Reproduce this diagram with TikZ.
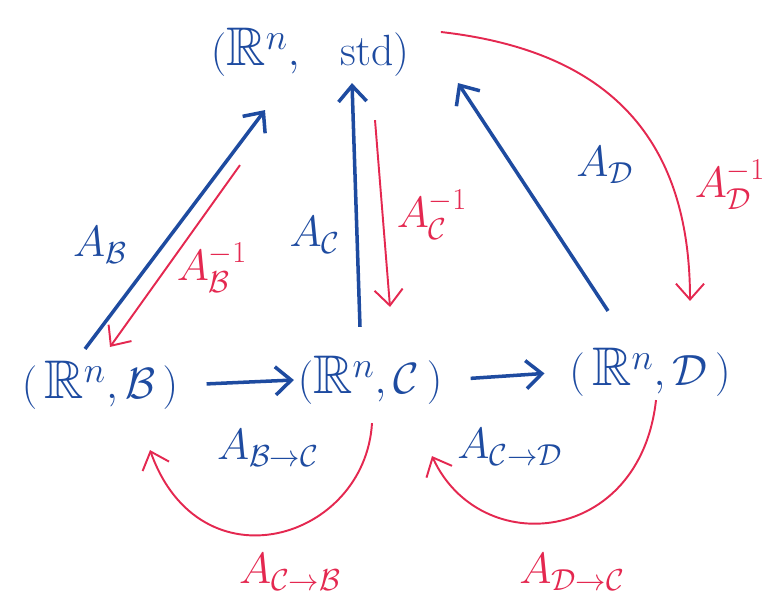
\documentclass[tikz,border=0pt]{standalone}
\usepackage{amssymb}
\usetikzlibrary{arrows.meta}
\definecolor{penblue}{RGB}{30,75,160}
\definecolor{penred}{RGB}{228,40,80}
\begin{document}
\begin{tikzpicture}[x=0.02cm, y=-0.02cm]
\tikzset{
  space/.style={text=penblue, font=\fontsize{31}{36}\selectfont, inner sep=2pt},
  fwdmap/.style={-{Straight Barb[length=9pt,width=16pt]}, line width=2pt, draw=penblue},
  invmap/.style={-{Straight Barb[length=9pt,width=16pt]}, line width=1.1pt, draw=penred},
  fwdlabel/.style={text=penblue, font=\fontsize{26}{30}\selectfont},
  invlabel/.style={text=penred, font=\fontsize{24}{28}\selectfont}
}
\useasboundingbox (0,0) rectangle (764,602);
\node[space] (std) at (310,52) {$(\mathbb{R}^n,\ \ \mathrm{std})$};
\node[space] (sB) at (100,385) {$(\,\mathbb{R}^n,\mathcal{B}\,)$};
\node[space] (sC) at (370,380) {$(\mathbb{R}^n,\mathcal{C}\,)$};
\node[space] (sD) at (650,372) {$(\,\mathbb{R}^n,\mathcal{D}\,)$};

\draw[fwdmap] ([shift={(-15,-8)}]sB.north) -- ([shift={(-45,30)}]std.south);
\draw[invmap] ([shift={(-70,85)}]std.south) -- ([shift={(10,-10)}]sB.north);
\draw[fwdmap] ([shift={(-10,-25)}]sC.north) -- ([shift={(42,3)}]std.south);
\draw[invmap] ([shift={(65,40)}]std.south) -- ([shift={(20,-45)}]sC.north);
\draw[fwdmap] ([shift={(-42,-33)}]sD.north) -- ([shift={(148,3)}]std.south);
\draw[invmap] ([shift={(28,-20)}]std.east)
  .. controls (600,50) and (690,130) .. ([shift={(40,-43)}]sD.north);

\draw[fwdmap, shorten <=14pt] (sB.east) -- (sC.west);
\draw[fwdmap, shorten <=14pt, shorten >=12pt] (sC.east) -- (sD.west);
\draw[invmap] ([shift={(2,15)}]sC.south)
  .. controls (365,540) and (200,590) .. ([shift={(50,37)}]sB.south);
\draw[invmap] ([shift={(6,0)}]sD.south)
  .. controls (640,545) and (480,560) .. ([shift={(62,48)}]sC.south);

\node[fwdlabel] (lB) at (100,245) {$A_{\mathcal{B}}$};
\node[invlabel] (lBinv) at (212,268) {$A_{\mathcal{B}}^{-1}$};
\node[fwdlabel] (lC) at (315,235) {$A_{\mathcal{C}}$};
\node[invlabel] (lCinv) at (432,215) {$A_{\mathcal{C}}^{-1}$};
\node[fwdlabel] (lD) at (605,165) {$A_{\mathcal{D}}$};
\node[invlabel] (lDinv) at (730,185) {$A_{\mathcal{D}}^{-1}$};
\node[fwdlabel] (lBC) at (268,448) {$A_{\mathcal{B}\to\mathcal{C}}$};
\node[fwdlabel] (lCD) at (510,447) {$A_{\mathcal{C}\to\mathcal{D}}$};
\node[invlabel] (lCB) at (290,572) {$A_{\mathcal{C}\to\mathcal{B}}$};
\node[invlabel] (lDC) at (572,572) {$A_{\mathcal{D}\to\mathcal{C}}$};
\end{tikzpicture}
\end{document}
